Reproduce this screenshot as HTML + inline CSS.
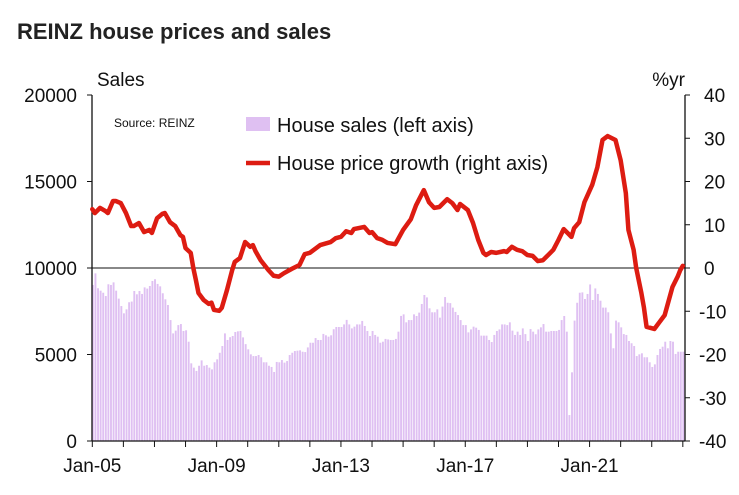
<!DOCTYPE html>
<html><head><meta charset="utf-8"><style>
body{margin:0;background:#fff;}
svg{display:block;font-family:"Liberation Sans",Arial,sans-serif;}
</style></head><body>
<svg id="chart" width="739" height="495" viewBox="0 0 739 495">
<text x="17" y="39" font-size="22" font-weight="bold" fill="#222">REINZ house prices and sales</text>
<text x="97" y="86" font-size="19" fill="#111">Sales</text>
<text x="685" y="86" font-size="19" fill="#111" text-anchor="end">%yr</text>
<g id="bars"></g>
<g id="axes"></g>
<path id="line" fill="none" stroke="#dd1c12" stroke-width="4.5" stroke-linejoin="round" stroke-linecap="round"></path>
<text x="114" y="127" font-size="12" fill="#111">Source: REINZ</text>
<rect x="246" y="117" width="24" height="14" fill="#dfc0f2"></rect>
<text x="277" y="132" font-size="20" fill="#111">House sales (left axis)</text>
<line x1="246" y1="163" x2="270" y2="163" stroke="#dd1c12" stroke-width="4.5"></line>
<text x="277" y="170" font-size="20" fill="#111">House price growth (right axis)</text>
</svg>
<script>
const sales=[9020,9690,8830,8690,8570,8380,9060,9020,9170,8690,8230,7800,7380,7610,8020,8060,8670,8480,8670,8500,8880,8810,8960,9250,9350,9080,8940,8540,8190,7860,6990,6220,6380,6700,6760,6360,6400,5740,4490,4240,4050,4350,4660,4350,4390,4240,4140,4550,4720,5100,5490,6220,5840,6000,6070,6300,6340,6360,5990,5600,5300,5010,4910,4910,4970,4840,4550,4550,4350,4280,3990,4570,4550,4680,4530,4620,4970,5100,5200,5220,5240,5160,5140,5410,5680,5680,5950,5840,5840,6190,6110,6030,6110,6460,6590,6590,6590,6740,7000,6740,6510,6610,6740,6740,6940,6650,6360,6070,6360,6130,6030,5680,5740,5900,5870,5840,5840,5900,6320,7230,7320,6860,6990,6990,7320,7225,7420,7920,8440,8300,7670,7440,7440,7610,7130,7770,8320,7990,7970,7710,7460,7280,6990,6700,6700,6280,6450,6610,6550,6420,6090,6090,6090,5840,5720,6130,6360,6450,6740,6740,6700,6860,6380,6130,6320,6130,6510,6180,5780,6470,6320,6170,6450,6570,6760,6320,6320,6360,6360,6360,6420,6990,7225,6320,1500,3970,6960,7990,8570,8590,8210,8500,9050,8150,8820,8500,8110,7710,7710,7440,6220,5360,6960,6860,6570,6180,6130,5780,5650,5490,4910,5010,5070,4840,4840,4550,4280,4430,4970,5320,5450,5740,5360,5780,5740,5030,5160,5160,5160];
const priceMonths=[0,1,3,5,6,8,9,11,13,15,16,18,20,22,23,25,27,28,30,32,34,35,36,38,39,40,41,43,45,46,47,49,50,52,54,55,57,59,61,62,63,65,68,70,72,74,77,80,82,84,88,92,94,96,98,100,101,105,107,108,110,112,114,117,120,123,125,128,130,132,134,137,139,141,142,145,147,149,151,152,154,156,159,160,162,164,166,168,170,172,174,176,178,180,182,185,186,188,190,193,195,197,199,202,204,206,207,209,210,212,213,214,217,219,221,224,226,227,228];
const priceGrowth=[13.6,12.7,13.9,13.2,12.7,15.5,15.5,15,12.7,9.7,9.7,10.4,8.3,8.8,8.1,11.5,12.5,12.7,10.6,9.7,7.6,7.2,4.6,3.5,0,-2.8,-5.8,-7.4,-8.3,-8,-9.7,-9.9,-9.2,-5.1,-0.5,1.4,2.3,6,4.9,5.3,3.9,1.8,-0.5,-1.8,-2,-1.2,-0.2,0.7,3.2,3.5,5.3,6,6.9,7.2,8.5,8.1,9,9.5,8.1,8.3,6.9,6.5,5.8,5.5,8.8,11.3,14.5,18,15.2,13.9,14.1,15.9,15,13.4,14.8,13.4,10.4,6.5,3.5,3,3.7,3.5,3.9,3.7,4.9,4.2,3.9,3,2.8,1.6,1.8,3,4.2,6.5,9,7.2,9.2,10.6,15.2,19.2,23.3,29.6,30.5,29.6,24.9,17.3,8.8,4.2,0,-5.8,-9.2,-13.6,-14.1,-12.5,-10.9,-4.4,-2,-0.5,0.5];
const leftTicks=[0,5000,10000,15000,20000];
const rightTicks=[-40,-30,-20,-10,0,10,20,30,40];
const xLabels=["Jan-05","Jan-09","Jan-13","Jan-17","Jan-21"];
const xLabelYears=[0,4,8,12,16];
const yearTicks=[0,1,2,3,4,5,6,7,8,9,10,11,12,13,14,15,16,17,18,19];

const NS="http://www.w3.org/2000/svg";
const X0=92.3,PXM=2.59,TOP=95,BOT=441,LEFT=92,RIGHT=685;
const xm=m=>X0+m*PXM;
const yL=v=>BOT-(v/20000)*(BOT-TOP);
const yR=v=>BOT-((v+40)/80)*(BOT-TOP);
function mk(tag,attrs,parent){const e=document.createElementNS(NS,tag);for(const k in attrs)e.setAttribute(k,attrs[k]);parent.appendChild(e);return e;}
const bars=document.getElementById('bars');
sales.forEach((v,i)=>{
  const r=mk('rect',{x:(xm(i)-0.4).toFixed(2),y:yL(v).toFixed(2),width:1.9,height:(BOT-yL(v)).toFixed(2),fill:'#dfc0f2'},bars);
  
  
});
const ax=document.getElementById('axes');
const z=mk('line',{x1:LEFT,y1:yR(0),x2:RIGHT,y2:yR(0),stroke:'#111','stroke-width':1},ax);


const la=mk('line',{x1:LEFT,y1:TOP,x2:LEFT,y2:BOT,stroke:'#111','stroke-width':1.3},ax);


const ra=mk('line',{x1:RIGHT,y1:TOP,x2:RIGHT,y2:BOT,stroke:'#111','stroke-width':1.3},ax);


const ba=mk('line',{x1:LEFT,y1:BOT,x2:RIGHT,y2:BOT,stroke:'#111','stroke-width':1.3},ax);


leftTicks.forEach(v=>{
  const t=mk('line',{x1:LEFT-5,y1:yL(v),x2:LEFT,y2:yL(v),stroke:'#111'},ax);
  
  
  const l=mk('text',{x:77,y:yL(v)+7,'font-size':19,'text-anchor':'end',fill:'#111'},ax);
  l.textContent=v;
  
  
});
rightTicks.forEach(v=>{
  const t=mk('line',{x1:RIGHT,y1:yR(v),x2:RIGHT+5,y2:yR(v),stroke:'#111'},ax);
  
  
  const l=mk('text',{x:v<0?699:704,y:yR(v)+7,'font-size':19,fill:'#111'},ax);
  l.textContent=v;
  
  
});
yearTicks.forEach(y=>{
  const t=mk('line',{x1:xm(y*12),y1:BOT,x2:xm(y*12),y2:BOT+6,stroke:'#111'},ax);
  
  
});
xLabels.forEach((s,i)=>{
  const l=mk('text',{x:xm(xLabelYears[i]*12),y:472,'font-size':19,'text-anchor':'middle',fill:'#111'},ax);
  l.textContent=s;
  
  
});
document.getElementById('line').setAttribute('d',priceMonths.map((m,i)=>(i?'L':'M')+xm(m).toFixed(2)+' '+yR(priceGrowth[i]).toFixed(2)).join(' '));
</script>
</body></html>
